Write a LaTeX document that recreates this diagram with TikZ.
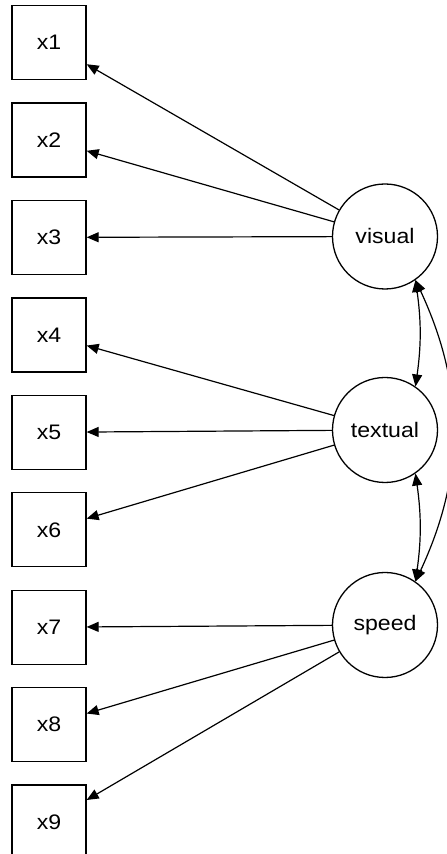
\documentclass[tikz,border=0pt]{standalone}
\usepackage{fontspec}
\setmainfont{Liberation Sans}[FakeStretch=1.1]
\usetikzlibrary{arrows.meta}
\begin{document}
\begin{tikzpicture}[x=1pt,y=1pt,
  obs/.style={draw,line width=1.3pt,minimum width=74pt,minimum height=74pt,inner sep=0pt,font=\fontsize{21}{24}\selectfont},
  lat/.style={draw,circle,line width=1.3pt,minimum size=105pt,inner sep=0pt,font=\fontsize{21}{24}\selectfont},
  load/.style={line width=1.2pt,-{Triangle[length=12pt,width=10pt]}},
  cov/.style={line width=1.2pt,{Triangle[length=12pt,width=10pt]}-{Triangle[length=12pt,width=10pt]}}
]
\useasboundingbox (0,0) rectangle (447,854);
\node[obs] (x1) at (49,811.5) {x1};
\node[obs] (x2) at (49,714) {x2};
\node[obs] (x3) at (49,616.6) {x3};
\node[obs] (x4) at (49,519.1) {x4};
\node[obs] (x5) at (49,421.7) {x5};
\node[obs] (x6) at (49,324.2) {x6};
\node[obs] (x7) at (49,226.8) {x7};
\node[obs] (x8) at (49,129.3) {x8};
\node[obs] (x9) at (49,31.9) {x9};
\node[lat] (visual) at (385,617.5) {visual};
\node[lat] (textual) at (385,424) {textual};
\node[lat] (speed) at (385,229) {speed};
\draw[load] (visual) -- (x1);
\draw[load] (visual) -- (x2);
\draw[load] (visual) -- (x3);
\draw[load] (textual) -- (x4);
\draw[load] (textual) -- (x5);
\draw[load] (textual) -- (x6);
\draw[load] (speed) -- (x7);
\draw[load] (speed) -- (x8);
\draw[load] (speed) -- (x9);
\draw[cov] (visual.-55) to[bend left=8] (textual.55);
\draw[cov] (textual.-55) to[bend left=8] (speed.55);
\draw[cov] (visual.-55) to[bend left=25] (speed.55);
\end{tikzpicture}
\end{document}
